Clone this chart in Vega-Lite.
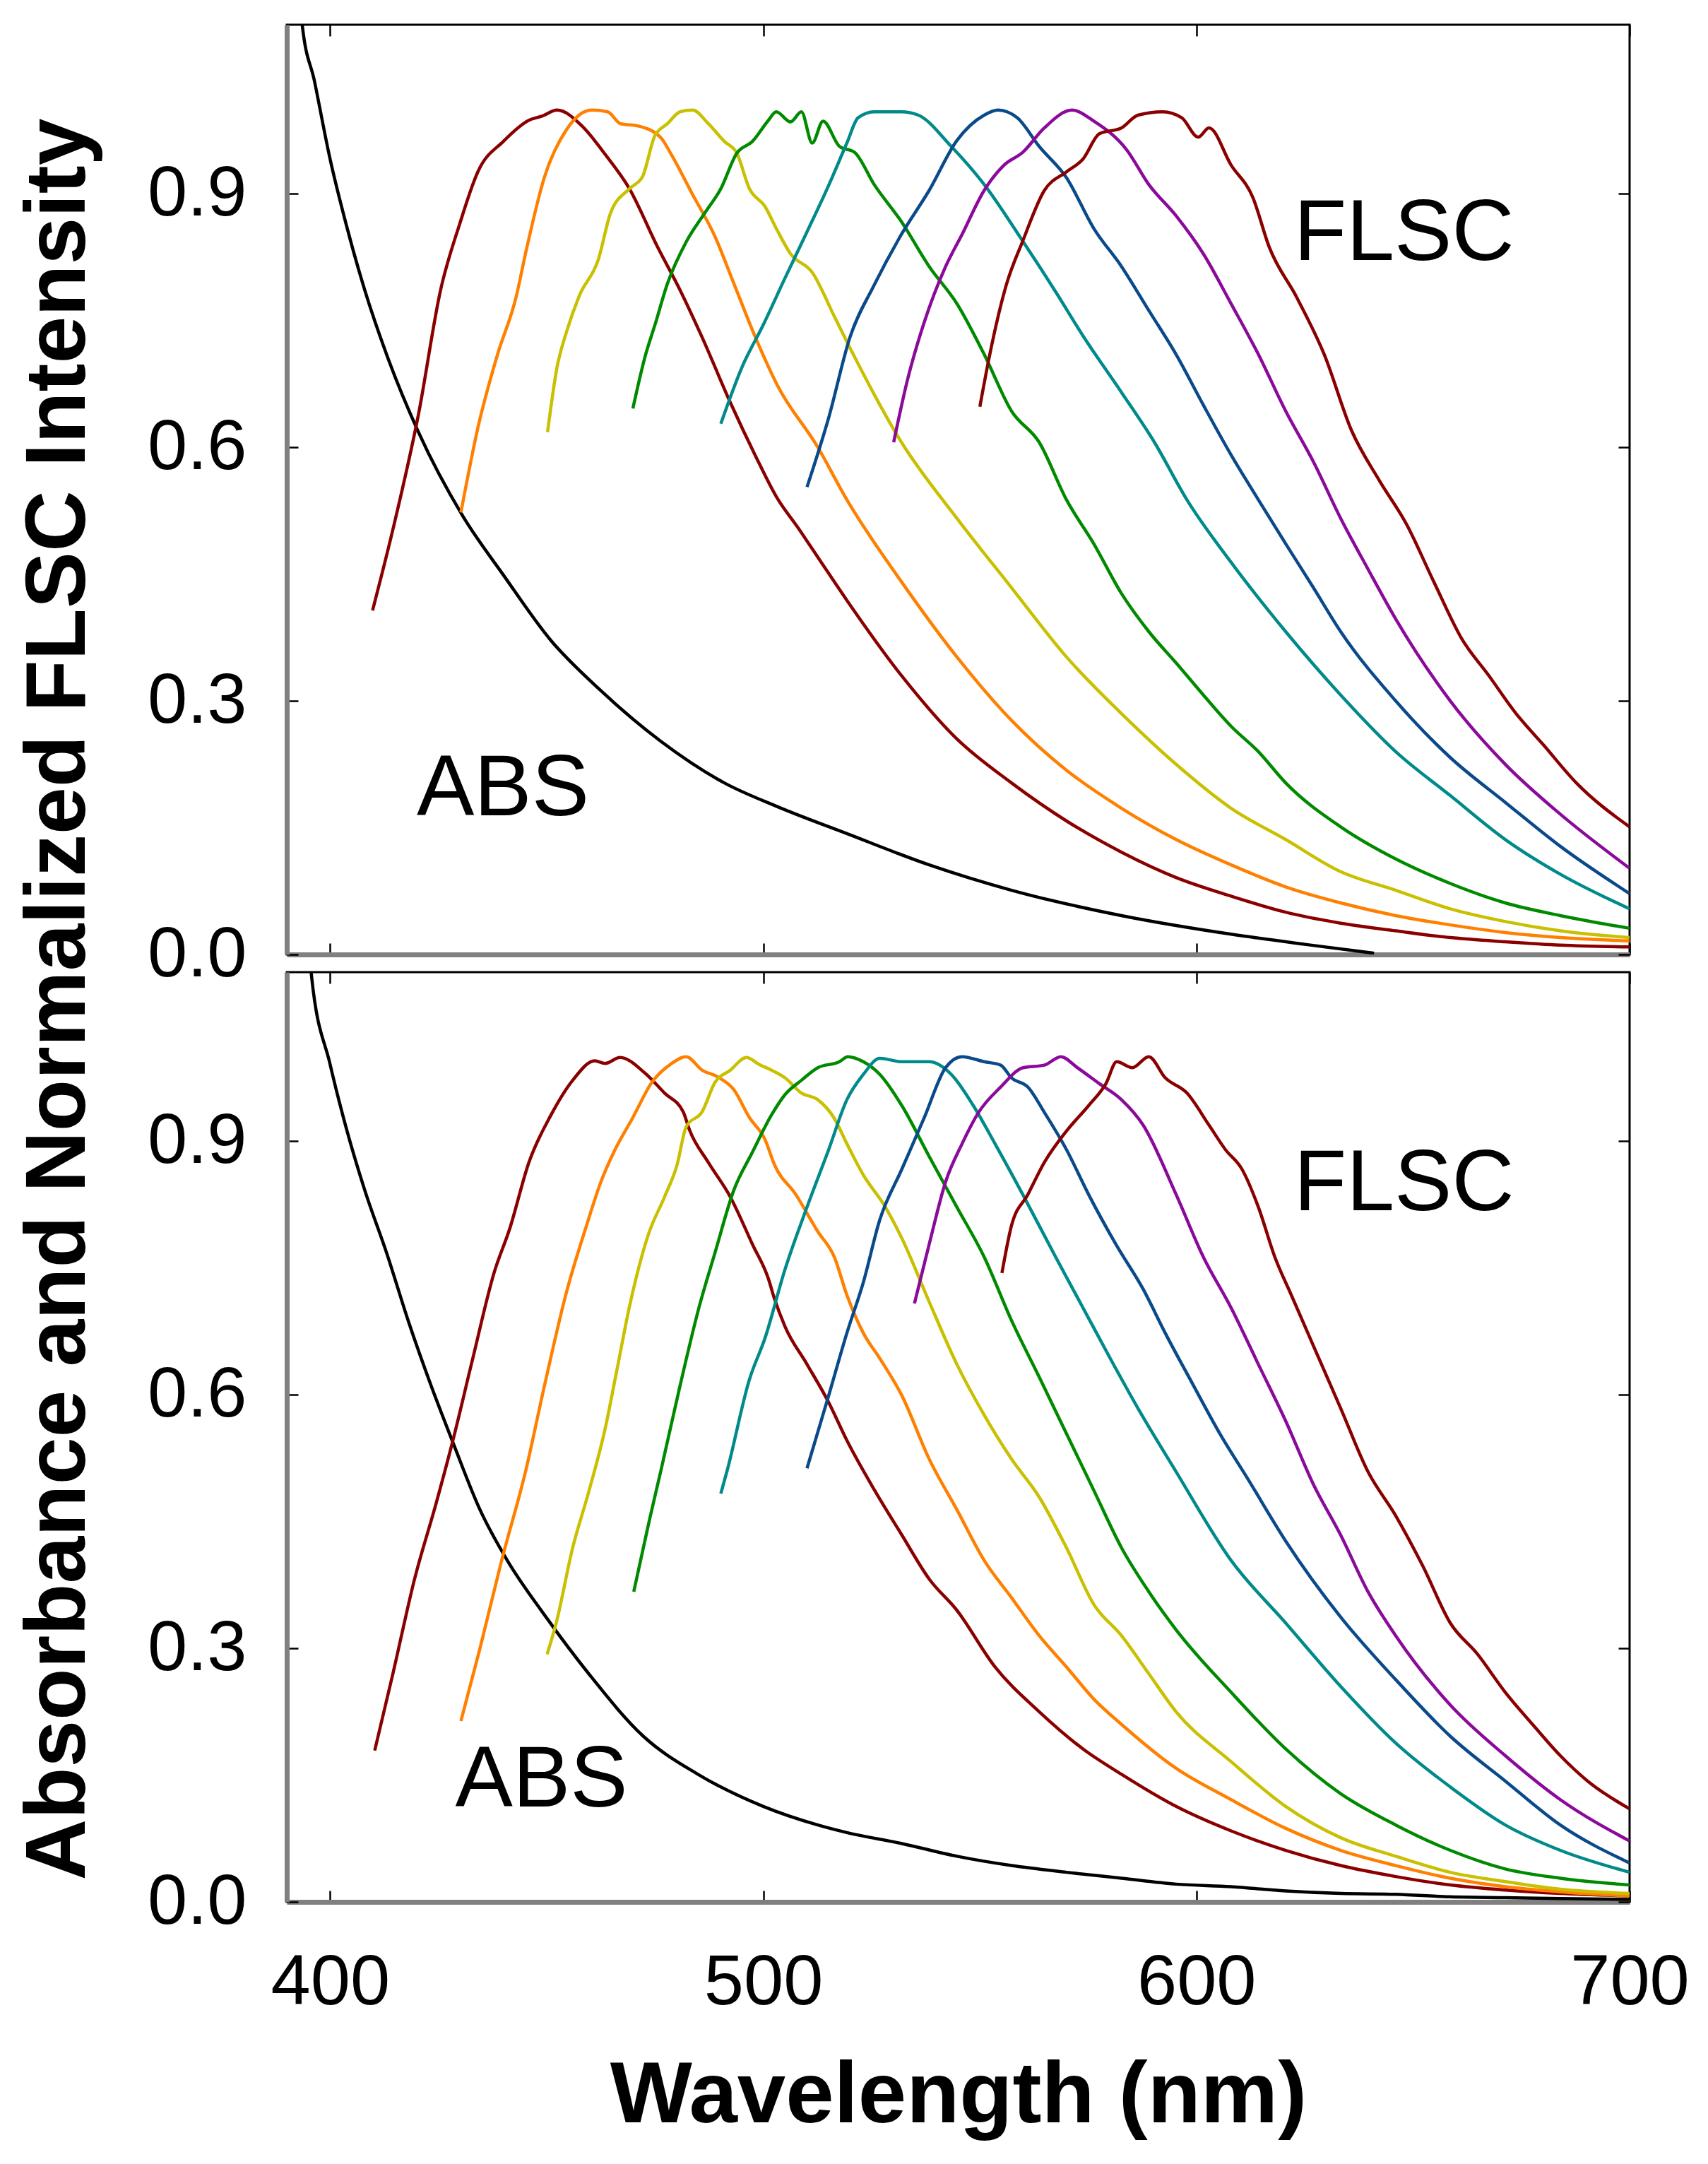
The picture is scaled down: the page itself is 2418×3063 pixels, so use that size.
{
  "$schema": "https://vega.github.io/schema/vega-lite/v6.json",
  "description": "Absorbance (ABS) and normalized FLSC spectra, two stacked panels sharing the wavelength axis.",
  "background": "white",
  "padding": {"left": 21, "top": 32, "right": 10, "bottom": 10},
  "bounds": "flush",
  "spacing": 25,
  "config": {
    "font": "Liberation Sans",
    "view": {"stroke": "#000000", "strokeWidth": 3},
    "axis": {
      "grid": false,
      "tickColor": "#000000",
      "tickWidth": 2.5,
      "tickSize": -16,
      "labelFont": "Liberation Sans",
      "labelFontSize": 101,
      "labelColor": "#000000",
      "labelFlush": false,
      "domainColor": "#808080",
      "domainWidth": 7,
      "titleFont": "Liberation Sans",
      "titleFontWeight": "bold",
      "titleColor": "#000000"
    }
  },
  "datasets": {
    "notes": [
      {"p": "a", "t": "ABS", "x": 420, "y": 0.165},
      {"p": "a", "t": "FLSC", "x": 622.5, "y": 0.822},
      {"p": "b", "t": "ABS", "x": 428.9, "y": 0.113},
      {"p": "b", "t": "FLSC", "x": 622.5, "y": 0.818}
    ],
    "curves": [
      {"p":"a","s":"ABS","x":393.2,"y":1.12},{"p":"a","s":"ABS","x":393.5,"y":1.103},{"p":"a","s":"ABS","x":396.4,"y":1.033},{"p":"a","s":"ABS","x":400,"y":0.941},{"p":"a","s":"ABS","x":403.7,"y":0.864},{"p":"a","s":"ABS","x":408,"y":0.786},{"p":"a","s":"ABS","x":413.1,"y":0.709},{"p":"a","s":"ABS","x":420.4,"y":0.618},{"p":"a","s":"ABS","x":430.6,"y":0.519},{"p":"a","s":"ABS","x":440,"y":0.449},{"p":"a","s":"ABS","x":450.9,"y":0.372},{"p":"a","s":"ABS","x":461.9,"y":0.315},{"p":"a","s":"ABS","x":476.4,"y":0.252},{"p":"a","s":"ABS","x":491,"y":0.203},{"p":"a","s":"ABS","x":503.2,"y":0.175},{"p":"a","s":"ABS","x":519.3,"y":0.143},{"p":"a","s":"ABS","x":538.3,"y":0.106},{"p":"a","s":"ABS","x":557.3,"y":0.076},{"p":"a","s":"ABS","x":582.7,"y":0.046},{"p":"a","s":"ABS","x":608,"y":0.024},{"p":"a","s":"ABS","x":625,"y":0.012},{"p":"a","s":"ABS","x":641,"y":0.0015},
      {"p":"a","s":"m1","x":409.8,"y":0.407},{"p":"a","s":"m1","x":414.6,"y":0.505},{"p":"a","s":"m1","x":420.4,"y":0.639},{"p":"a","s":"m1","x":425.5,"y":0.786},{"p":"a","s":"m1","x":429.9,"y":0.864},{"p":"a","s":"m1","x":434.2,"y":0.927},{"p":"a","s":"m1","x":440,"y":0.962},{"p":"a","s":"m1","x":445.9,"y":0.987},{"p":"a","s":"m1","x":449,"y":0.992},{"p":"a","s":"m1","x":452.4,"y":0.999},{"p":"a","s":"m1","x":458.2,"y":0.98},{"p":"a","s":"m1","x":463.3,"y":0.948},{"p":"a","s":"m1","x":469.1,"y":0.906},{"p":"a","s":"m1","x":475.7,"y":0.836},{"p":"a","s":"m1","x":480.8,"y":0.786},{"p":"a","s":"m1","x":485.9,"y":0.73},{"p":"a","s":"m1","x":492.4,"y":0.653},{"p":"a","s":"m1","x":498.2,"y":0.59},{"p":"a","s":"m1","x":503.2,"y":0.54},{"p":"a","s":"m1","x":508,"y":0.505},{"p":"a","s":"m1","x":512.6,"y":0.47},{"p":"a","s":"m1","x":519.3,"y":0.419},{"p":"a","s":"m1","x":531.9,"y":0.33},{"p":"a","s":"m1","x":544.7,"y":0.255},{"p":"a","s":"m1","x":557.3,"y":0.203},{"p":"a","s":"m1","x":570,"y":0.158},{"p":"a","s":"m1","x":582.7,"y":0.121},{"p":"a","s":"m1","x":595.3,"y":0.091},{"p":"a","s":"m1","x":608,"y":0.069},{"p":"a","s":"m1","x":620.6,"y":0.05},{"p":"a","s":"m1","x":633.3,"y":0.037},{"p":"a","s":"m1","x":646,"y":0.028},{"p":"a","s":"m1","x":658.6,"y":0.02},{"p":"a","s":"m1","x":671.3,"y":0.015},{"p":"a","s":"m1","x":684,"y":0.011},{"p":"a","s":"m1","x":700,"y":0.009},
      {"p":"a","s":"o","x":430.2,"y":0.523},{"p":"a","s":"o","x":434.2,"y":0.625},{"p":"a","s":"o","x":438.6,"y":0.709},{"p":"a","s":"o","x":443,"y":0.779},{"p":"a","s":"o","x":445.1,"y":0.829},{"p":"a","s":"o","x":449.5,"y":0.92},{"p":"a","s":"o","x":454.6,"y":0.976},{"p":"a","s":"o","x":460.4,"y":0.999},{"p":"a","s":"o","x":464.1,"y":0.997},{"p":"a","s":"o","x":467,"y":0.983},{"p":"a","s":"o","x":471.3,"y":0.98},{"p":"a","s":"o","x":476.4,"y":0.966},{"p":"a","s":"o","x":478.6,"y":0.948},{"p":"a","s":"o","x":483.7,"y":0.899},{"p":"a","s":"o","x":488.8,"y":0.85},{"p":"a","s":"o","x":493.2,"y":0.794},{"p":"a","s":"o","x":498.2,"y":0.73},{"p":"a","s":"o","x":503.2,"y":0.674},{"p":"a","s":"o","x":512.6,"y":0.6},{"p":"a","s":"o","x":519.3,"y":0.538},{"p":"a","s":"o","x":531.9,"y":0.441},{"p":"a","s":"o","x":544.7,"y":0.352},{"p":"a","s":"o","x":557.3,"y":0.277},{"p":"a","s":"o","x":570,"y":0.218},{"p":"a","s":"o","x":582.7,"y":0.173},{"p":"a","s":"o","x":595.3,"y":0.136},{"p":"a","s":"o","x":608,"y":0.106},{"p":"a","s":"o","x":620.6,"y":0.08},{"p":"a","s":"o","x":633.3,"y":0.061},{"p":"a","s":"o","x":646,"y":0.046},{"p":"a","s":"o","x":658.6,"y":0.035},{"p":"a","s":"o","x":671.3,"y":0.026},{"p":"a","s":"o","x":684,"y":0.02},{"p":"a","s":"o","x":700,"y":0.016},
      {"p":"a","s":"y","x":450.2,"y":0.618},{"p":"a","s":"y","x":452.4,"y":0.695},{"p":"a","s":"y","x":454.6,"y":0.737},{"p":"a","s":"y","x":457.5,"y":0.779},{"p":"a","s":"y","x":461.9,"y":0.822},{"p":"a","s":"y","x":464.8,"y":0.878},{"p":"a","s":"y","x":469.1,"y":0.906},{"p":"a","s":"y","x":472.1,"y":0.92},{"p":"a","s":"y","x":475,"y":0.969},{"p":"a","s":"y","x":477.9,"y":0.983},{"p":"a","s":"y","x":480.8,"y":0.997},{"p":"a","s":"y","x":483.7,"y":0.999},{"p":"a","s":"y","x":487.3,"y":0.983},{"p":"a","s":"y","x":491,"y":0.962},{"p":"a","s":"y","x":493.9,"y":0.948},{"p":"a","s":"y","x":496.8,"y":0.906},{"p":"a","s":"y","x":500.4,"y":0.885},{"p":"a","s":"y","x":503.2,"y":0.857},{"p":"a","s":"y","x":506.3,"y":0.829},{"p":"a","s":"y","x":511.3,"y":0.807},{"p":"a","s":"y","x":516.4,"y":0.755},{"p":"a","s":"y","x":519.3,"y":0.725},{"p":"a","s":"y","x":531.9,"y":0.606},{"p":"a","s":"y","x":544.7,"y":0.516},{"p":"a","s":"y","x":557.3,"y":0.434},{"p":"a","s":"y","x":570,"y":0.352},{"p":"a","s":"y","x":582.7,"y":0.285},{"p":"a","s":"y","x":595.3,"y":0.225},{"p":"a","s":"y","x":608,"y":0.173},{"p":"a","s":"y","x":620.6,"y":0.136},{"p":"a","s":"y","x":633.3,"y":0.098},{"p":"a","s":"y","x":646,"y":0.076},{"p":"a","s":"y","x":658.6,"y":0.054},{"p":"a","s":"y","x":671.3,"y":0.039},{"p":"a","s":"y","x":684,"y":0.028},{"p":"a","s":"y","x":700,"y":0.02},
      {"p":"a","s":"g","x":469.9,"y":0.646},{"p":"a","s":"g","x":472.8,"y":0.709},{"p":"a","s":"g","x":475,"y":0.745},{"p":"a","s":"g","x":477.9,"y":0.794},{"p":"a","s":"g","x":482.2,"y":0.843},{"p":"a","s":"g","x":486.6,"y":0.878},{"p":"a","s":"g","x":490.2,"y":0.906},{"p":"a","s":"g","x":493.9,"y":0.948},{"p":"a","s":"g","x":497.5,"y":0.962},{"p":"a","s":"g","x":501.2,"y":0.987},{"p":"a","s":"g","x":503,"y":0.997},{"p":"a","s":"g","x":506.3,"y":0.985},{"p":"a","s":"g","x":508.8,"y":0.997},{"p":"a","s":"g","x":511.3,"y":0.96},{"p":"a","s":"g","x":513.8,"y":0.986},{"p":"a","s":"g","x":517.6,"y":0.956},{"p":"a","s":"g","x":521.1,"y":0.949},{"p":"a","s":"g","x":525.6,"y":0.911},{"p":"a","s":"g","x":531.9,"y":0.867},{"p":"a","s":"g","x":538.3,"y":0.814},{"p":"a","s":"g","x":544.7,"y":0.77},{"p":"a","s":"g","x":551,"y":0.71},{"p":"a","s":"g","x":557.3,"y":0.643},{"p":"a","s":"g","x":563.7,"y":0.606},{"p":"a","s":"g","x":570,"y":0.538},{"p":"a","s":"g","x":576.3,"y":0.486},{"p":"a","s":"g","x":582.7,"y":0.427},{"p":"a","s":"g","x":589,"y":0.382},{"p":"a","s":"g","x":595.3,"y":0.345},{"p":"a","s":"g","x":601.6,"y":0.307},{"p":"a","s":"g","x":608,"y":0.27},{"p":"a","s":"g","x":614.3,"y":0.24},{"p":"a","s":"g","x":620.6,"y":0.203},{"p":"a","s":"g","x":633.3,"y":0.151},{"p":"a","s":"g","x":646,"y":0.113},{"p":"a","s":"g","x":658.6,"y":0.084},{"p":"a","s":"g","x":671.3,"y":0.061},{"p":"a","s":"g","x":684,"y":0.046},{"p":"a","s":"g","x":700,"y":0.031},
      {"p":"a","s":"t","x":490.2,"y":0.628},{"p":"a","s":"t","x":495.1,"y":0.695},{"p":"a","s":"t","x":500,"y":0.745},{"p":"a","s":"t","x":505,"y":0.8},{"p":"a","s":"t","x":510.1,"y":0.855},{"p":"a","s":"t","x":515.1,"y":0.91},{"p":"a","s":"t","x":519.3,"y":0.96},{"p":"a","s":"t","x":521.9,"y":0.99},{"p":"a","s":"t","x":525.6,"y":0.997},{"p":"a","s":"t","x":531.9,"y":0.997},{"p":"a","s":"t","x":535.8,"y":0.993},{"p":"a","s":"t","x":543.4,"y":0.956},{"p":"a","s":"t","x":551,"y":0.911},{"p":"a","s":"t","x":559.9,"y":0.844},{"p":"a","s":"t","x":567.5,"y":0.784},{"p":"a","s":"t","x":573.8,"y":0.732},{"p":"a","s":"t","x":582.7,"y":0.665},{"p":"a","s":"t","x":590.3,"y":0.606},{"p":"a","s":"t","x":597.8,"y":0.538},{"p":"a","s":"t","x":608,"y":0.464},{"p":"a","s":"t","x":620.6,"y":0.382},{"p":"a","s":"t","x":633.3,"y":0.307},{"p":"a","s":"t","x":646,"y":0.24},{"p":"a","s":"t","x":658.6,"y":0.188},{"p":"a","s":"t","x":671.3,"y":0.136},{"p":"a","s":"t","x":684,"y":0.095},{"p":"a","s":"t","x":700,"y":0.054},
      {"p":"a","s":"b","x":510.1,"y":0.553},{"p":"a","s":"b","x":515.1,"y":0.635},{"p":"a","s":"b","x":520,"y":0.73},{"p":"a","s":"b","x":525.6,"y":0.792},{"p":"a","s":"b","x":531.9,"y":0.852},{"p":"a","s":"b","x":538.3,"y":0.904},{"p":"a","s":"b","x":544.7,"y":0.963},{"p":"a","s":"b","x":551,"y":0.993},{"p":"a","s":"b","x":554.2,"y":0.999},{"p":"a","s":"b","x":558.6,"y":0.99},{"p":"a","s":"b","x":563.7,"y":0.956},{"p":"a","s":"b","x":570,"y":0.919},{"p":"a","s":"b","x":576.3,"y":0.859},{"p":"a","s":"b","x":582.7,"y":0.814},{"p":"a","s":"b","x":589,"y":0.762},{"p":"a","s":"b","x":595.3,"y":0.71},{"p":"a","s":"b","x":601.6,"y":0.65},{"p":"a","s":"b","x":608,"y":0.591},{"p":"a","s":"b","x":614.3,"y":0.538},{"p":"a","s":"b","x":620.6,"y":0.486},{"p":"a","s":"b","x":627,"y":0.434},{"p":"a","s":"b","x":633.3,"y":0.382},{"p":"a","s":"b","x":646,"y":0.3},{"p":"a","s":"b","x":658.6,"y":0.233},{"p":"a","s":"b","x":671.3,"y":0.18},{"p":"a","s":"b","x":684,"y":0.128},{"p":"a","s":"b","x":700,"y":0.072},
      {"p":"a","s":"pu","x":530.1,"y":0.606},{"p":"a","s":"pu","x":533.3,"y":0.68},{"p":"a","s":"pu","x":537.1,"y":0.747},{"p":"a","s":"pu","x":542.1,"y":0.814},{"p":"a","s":"pu","x":545.9,"y":0.852},{"p":"a","s":"pu","x":551,"y":0.904},{"p":"a","s":"pu","x":555.6,"y":0.934},{"p":"a","s":"pu","x":559.9,"y":0.949},{"p":"a","s":"pu","x":564.9,"y":0.978},{"p":"a","s":"pu","x":571.3,"y":0.999},{"p":"a","s":"pu","x":576.3,"y":0.986},{"p":"a","s":"pu","x":583.9,"y":0.952},{"p":"a","s":"pu","x":589,"y":0.911},{"p":"a","s":"pu","x":595.3,"y":0.874},{"p":"a","s":"pu","x":601.6,"y":0.829},{"p":"a","s":"pu","x":608,"y":0.77},{"p":"a","s":"pu","x":614.3,"y":0.71},{"p":"a","s":"pu","x":620.6,"y":0.643},{"p":"a","s":"pu","x":627,"y":0.583},{"p":"a","s":"pu","x":633.3,"y":0.516},{"p":"a","s":"pu","x":639.6,"y":0.456},{"p":"a","s":"pu","x":646,"y":0.397},{"p":"a","s":"pu","x":658.6,"y":0.3},{"p":"a","s":"pu","x":671.3,"y":0.225},{"p":"a","s":"pu","x":684,"y":0.166},{"p":"a","s":"pu","x":700,"y":0.102},
      {"p":"a","s":"m2","x":550,"y":0.648},{"p":"a","s":"m2","x":552.3,"y":0.71},{"p":"a","s":"m2","x":556.1,"y":0.792},{"p":"a","s":"m2","x":559.9,"y":0.844},{"p":"a","s":"m2","x":564.9,"y":0.904},{"p":"a","s":"m2","x":570,"y":0.926},{"p":"a","s":"m2","x":573.8,"y":0.941},{"p":"a","s":"m2","x":577.6,"y":0.971},{"p":"a","s":"m2","x":582.7,"y":0.978},{"p":"a","s":"m2","x":586.5,"y":0.993},{"p":"a","s":"m2","x":592.2,"y":0.997},{"p":"a","s":"m2","x":596.6,"y":0.99},{"p":"a","s":"m2","x":600.4,"y":0.967},{"p":"a","s":"m2","x":602.9,"y":0.978},{"p":"a","s":"m2","x":608,"y":0.934},{"p":"a","s":"m2","x":613,"y":0.896},{"p":"a","s":"m2","x":616.8,"y":0.837},{"p":"a","s":"m2","x":623.2,"y":0.777},{"p":"a","s":"m2","x":629.5,"y":0.71},{"p":"a","s":"m2","x":635.8,"y":0.62},{"p":"a","s":"m2","x":642.2,"y":0.561},{"p":"a","s":"m2","x":648.5,"y":0.509},{"p":"a","s":"m2","x":654.8,"y":0.441},{"p":"a","s":"m2","x":661.2,"y":0.374},{"p":"a","s":"m2","x":667.5,"y":0.33},{"p":"a","s":"m2","x":673.8,"y":0.285},{"p":"a","s":"m2","x":680.1,"y":0.248},{"p":"a","s":"m2","x":687.7,"y":0.203},{"p":"a","s":"m2","x":700,"y":0.151},
      {"p":"b","s":"ABS","x":395.4,"y":1.12},{"p":"b","s":"ABS","x":395.7,"y":1.096},{"p":"b","s":"ABS","x":400,"y":0.991},{"p":"b","s":"ABS","x":403.7,"y":0.916},{"p":"b","s":"ABS","x":408,"y":0.842},{"p":"b","s":"ABS","x":413.1,"y":0.767},{"p":"b","s":"ABS","x":418.2,"y":0.685},{"p":"b","s":"ABS","x":423.3,"y":0.611},{"p":"b","s":"ABS","x":428.4,"y":0.543},{"p":"b","s":"ABS","x":434.6,"y":0.464},{"p":"b","s":"ABS","x":440.9,"y":0.404},{"p":"b","s":"ABS","x":449.7,"y":0.338},{"p":"b","s":"ABS","x":459.7,"y":0.27},{"p":"b","s":"ABS","x":472.3,"y":0.196},{"p":"b","s":"ABS","x":484.9,"y":0.151},{"p":"b","s":"ABS","x":500,"y":0.113},{"p":"b","s":"ABS","x":512.6,"y":0.091},{"p":"b","s":"ABS","x":519.3,"y":0.082},{"p":"b","s":"ABS","x":532,"y":0.069},{"p":"b","s":"ABS","x":544.7,"y":0.054},{"p":"b","s":"ABS","x":557.3,"y":0.043},{"p":"b","s":"ABS","x":570,"y":0.035},{"p":"b","s":"ABS","x":582.7,"y":0.028},{"p":"b","s":"ABS","x":595.3,"y":0.021},{"p":"b","s":"ABS","x":608,"y":0.018},{"p":"b","s":"ABS","x":620.6,"y":0.013},{"p":"b","s":"ABS","x":633.3,"y":0.01},{"p":"b","s":"ABS","x":646,"y":0.009},{"p":"b","s":"ABS","x":658.6,"y":0.006},{"p":"b","s":"ABS","x":671.3,"y":0.005},{"p":"b","s":"ABS","x":684,"y":0.004},{"p":"b","s":"ABS","x":700,"y":0.003},
      {"p":"b","s":"m1","x":410.3,"y":0.179},{"p":"b","s":"m1","x":414.5,"y":0.27},{"p":"b","s":"m1","x":419.5,"y":0.382},{"p":"b","s":"m1","x":424.5,"y":0.472},{"p":"b","s":"m1","x":428.4,"y":0.547},{"p":"b","s":"m1","x":432.8,"y":0.64},{"p":"b","s":"m1","x":437.9,"y":0.745},{"p":"b","s":"m1","x":441.5,"y":0.797},{"p":"b","s":"m1","x":445.9,"y":0.875},{"p":"b","s":"m1","x":451,"y":0.931},{"p":"b","s":"m1","x":456,"y":0.972},{"p":"b","s":"m1","x":461.1,"y":0.995},{"p":"b","s":"m1","x":463.5,"y":0.992},{"p":"b","s":"m1","x":466.9,"y":0.999},{"p":"b","s":"m1","x":472.8,"y":0.98},{"p":"b","s":"m1","x":477.2,"y":0.957},{"p":"b","s":"m1","x":481.5,"y":0.935},{"p":"b","s":"m1","x":483,"y":0.913},{"p":"b","s":"m1","x":487.3,"y":0.875},{"p":"b","s":"m1","x":492.4,"y":0.834},{"p":"b","s":"m1","x":497.5,"y":0.778},{"p":"b","s":"m1","x":501.2,"y":0.737},{"p":"b","s":"m1","x":502.5,"y":0.715},{"p":"b","s":"m1","x":505,"y":0.681},{"p":"b","s":"m1","x":510.1,"y":0.636},{"p":"b","s":"m1","x":515.1,"y":0.591},{"p":"b","s":"m1","x":519.3,"y":0.546},{"p":"b","s":"m1","x":525.7,"y":0.487},{"p":"b","s":"m1","x":532,"y":0.434},{"p":"b","s":"m1","x":538.3,"y":0.382},{"p":"b","s":"m1","x":544.7,"y":0.345},{"p":"b","s":"m1","x":553.5,"y":0.278},{"p":"b","s":"m1","x":563.7,"y":0.225},{"p":"b","s":"m1","x":573.8,"y":0.181},{"p":"b","s":"m1","x":582.7,"y":0.151},{"p":"b","s":"m1","x":595.3,"y":0.113},{"p":"b","s":"m1","x":608,"y":0.084},{"p":"b","s":"m1","x":620.6,"y":0.061},{"p":"b","s":"m1","x":633.3,"y":0.043},{"p":"b","s":"m1","x":646,"y":0.03},{"p":"b","s":"m1","x":658.6,"y":0.02},{"p":"b","s":"m1","x":671.3,"y":0.014},{"p":"b","s":"m1","x":684,"y":0.01},{"p":"b","s":"m1","x":700,"y":0.007},
      {"p":"b","s":"o","x":430.2,"y":0.214},{"p":"b","s":"o","x":434.6,"y":0.3},{"p":"b","s":"o","x":439.6,"y":0.404},{"p":"b","s":"o","x":445.2,"y":0.511},{"p":"b","s":"o","x":449.5,"y":0.611},{"p":"b","s":"o","x":454.6,"y":0.722},{"p":"b","s":"o","x":459,"y":0.797},{"p":"b","s":"o","x":462.6,"y":0.853},{"p":"b","s":"o","x":465.5,"y":0.887},{"p":"b","s":"o","x":469.9,"y":0.928},{"p":"b","s":"o","x":474.2,"y":0.969},{"p":"b","s":"o","x":478.6,"y":0.991},{"p":"b","s":"o","x":482.2,"y":1.0},{"p":"b","s":"o","x":485.9,"y":0.984},{"p":"b","s":"o","x":489.5,"y":0.976},{"p":"b","s":"o","x":493.2,"y":0.961},{"p":"b","s":"o","x":496.8,"y":0.928},{"p":"b","s":"o","x":500.4,"y":0.902},{"p":"b","s":"o","x":502.6,"y":0.872},{"p":"b","s":"o","x":507.5,"y":0.837},{"p":"b","s":"o","x":512.6,"y":0.793},{"p":"b","s":"o","x":516.4,"y":0.763},{"p":"b","s":"o","x":519.3,"y":0.718},{"p":"b","s":"o","x":523.1,"y":0.673},{"p":"b","s":"o","x":526.9,"y":0.643},{"p":"b","s":"o","x":532,"y":0.599},{"p":"b","s":"o","x":538.3,"y":0.524},{"p":"b","s":"o","x":544.7,"y":0.464},{"p":"b","s":"o","x":551,"y":0.404},{"p":"b","s":"o","x":557.3,"y":0.36},{"p":"b","s":"o","x":563.7,"y":0.315},{"p":"b","s":"o","x":570,"y":0.278},{"p":"b","s":"o","x":576.3,"y":0.24},{"p":"b","s":"o","x":582.7,"y":0.21},{"p":"b","s":"o","x":595.3,"y":0.158},{"p":"b","s":"o","x":608,"y":0.121},{"p":"b","s":"o","x":620.6,"y":0.087},{"p":"b","s":"o","x":633.3,"y":0.061},{"p":"b","s":"o","x":646,"y":0.043},{"p":"b","s":"o","x":658.6,"y":0.028},{"p":"b","s":"o","x":671.3,"y":0.018},{"p":"b","s":"o","x":684,"y":0.012},{"p":"b","s":"o","x":700,"y":0.007},
      {"p":"b","s":"y","x":450.1,"y":0.293},{"p":"b","s":"y","x":452.2,"y":0.33},{"p":"b","s":"y","x":456,"y":0.419},{"p":"b","s":"y","x":459.7,"y":0.485},{"p":"b","s":"y","x":463.5,"y":0.56},{"p":"b","s":"y","x":466.2,"y":0.629},{"p":"b","s":"y","x":469.1,"y":0.704},{"p":"b","s":"y","x":473.5,"y":0.79},{"p":"b","s":"y","x":477.2,"y":0.834},{"p":"b","s":"y","x":480.1,"y":0.872},{"p":"b","s":"y","x":482.2,"y":0.917},{"p":"b","s":"y","x":485.9,"y":0.935},{"p":"b","s":"y","x":488.8,"y":0.969},{"p":"b","s":"y","x":492.4,"y":0.984},{"p":"b","s":"y","x":496.1,"y":0.999},{"p":"b","s":"y","x":499,"y":0.991},{"p":"b","s":"y","x":501.9,"y":0.984},{"p":"b","s":"y","x":505,"y":0.975},{"p":"b","s":"y","x":508.8,"y":0.957},{"p":"b","s":"y","x":512.6,"y":0.949},{"p":"b","s":"y","x":516.4,"y":0.927},{"p":"b","s":"y","x":519.3,"y":0.897},{"p":"b","s":"y","x":523.1,"y":0.86},{"p":"b","s":"y","x":528.2,"y":0.822},{"p":"b","s":"y","x":532,"y":0.785},{"p":"b","s":"y","x":538.3,"y":0.71},{"p":"b","s":"y","x":544.7,"y":0.636},{"p":"b","s":"y","x":551,"y":0.576},{"p":"b","s":"y","x":557.3,"y":0.524},{"p":"b","s":"y","x":563.7,"y":0.479},{"p":"b","s":"y","x":570,"y":0.419},{"p":"b","s":"y","x":576.3,"y":0.352},{"p":"b","s":"y","x":582.7,"y":0.315},{"p":"b","s":"y","x":589,"y":0.27},{"p":"b","s":"y","x":595.3,"y":0.225},{"p":"b","s":"y","x":608,"y":0.166},{"p":"b","s":"y","x":620.6,"y":0.113},{"p":"b","s":"y","x":633.3,"y":0.076},{"p":"b","s":"y","x":646,"y":0.054},{"p":"b","s":"y","x":658.6,"y":0.035},{"p":"b","s":"y","x":671.3,"y":0.024},{"p":"b","s":"y","x":684,"y":0.015},{"p":"b","s":"y","x":700,"y":0.01},
      {"p":"b","s":"g","x":470.1,"y":0.367},{"p":"b","s":"g","x":473.6,"y":0.449},{"p":"b","s":"g","x":476.4,"y":0.511},{"p":"b","s":"g","x":480.8,"y":0.611},{"p":"b","s":"g","x":485.2,"y":0.704},{"p":"b","s":"g","x":488.8,"y":0.767},{"p":"b","s":"g","x":493.2,"y":0.842},{"p":"b","s":"g","x":497.5,"y":0.887},{"p":"b","s":"g","x":501.9,"y":0.931},{"p":"b","s":"g","x":505,"y":0.955},{"p":"b","s":"g","x":508.8,"y":0.972},{"p":"b","s":"g","x":512.6,"y":0.987},{"p":"b","s":"g","x":517.6,"y":0.994},{"p":"b","s":"g","x":519.5,"y":1.0},{"p":"b","s":"g","x":523.1,"y":0.994},{"p":"b","s":"g","x":526.9,"y":0.979},{"p":"b","s":"g","x":532,"y":0.942},{"p":"b","s":"g","x":538.3,"y":0.882},{"p":"b","s":"g","x":544.7,"y":0.822},{"p":"b","s":"g","x":551,"y":0.763},{"p":"b","s":"g","x":557.3,"y":0.688},{"p":"b","s":"g","x":563.7,"y":0.621},{"p":"b","s":"g","x":570,"y":0.554},{"p":"b","s":"g","x":576.3,"y":0.487},{"p":"b","s":"g","x":582.7,"y":0.419},{"p":"b","s":"g","x":589,"y":0.367},{"p":"b","s":"g","x":595.3,"y":0.322},{"p":"b","s":"g","x":608,"y":0.248},{"p":"b","s":"g","x":620.6,"y":0.181},{"p":"b","s":"g","x":633.3,"y":0.128},{"p":"b","s":"g","x":646,"y":0.091},{"p":"b","s":"g","x":658.6,"y":0.061},{"p":"b","s":"g","x":671.3,"y":0.039},{"p":"b","s":"g","x":684,"y":0.028},{"p":"b","s":"g","x":700,"y":0.02},
      {"p":"b","s":"t","x":490.2,"y":0.483},{"p":"b","s":"t","x":491.7,"y":0.511},{"p":"b","s":"t","x":496.8,"y":0.618},{"p":"b","s":"t","x":500.4,"y":0.667},{"p":"b","s":"t","x":505,"y":0.748},{"p":"b","s":"t","x":510.1,"y":0.822},{"p":"b","s":"t","x":515.1,"y":0.89},{"p":"b","s":"t","x":519.3,"y":0.949},{"p":"b","s":"t","x":523.1,"y":0.979},{"p":"b","s":"t","x":526.9,"y":0.998},{"p":"b","s":"t","x":532,"y":0.994},{"p":"b","s":"t","x":538.3,"y":0.994},{"p":"b","s":"t","x":543.4,"y":0.979},{"p":"b","s":"t","x":548.5,"y":0.942},{"p":"b","s":"t","x":553.5,"y":0.897},{"p":"b","s":"t","x":559.9,"y":0.837},{"p":"b","s":"t","x":567.5,"y":0.763},{"p":"b","s":"t","x":573.8,"y":0.703},{"p":"b","s":"t","x":580.1,"y":0.643},{"p":"b","s":"t","x":586.5,"y":0.584},{"p":"b","s":"t","x":595.3,"y":0.509},{"p":"b","s":"t","x":608,"y":0.404},{"p":"b","s":"t","x":620.6,"y":0.33},{"p":"b","s":"t","x":633.3,"y":0.255},{"p":"b","s":"t","x":646,"y":0.188},{"p":"b","s":"t","x":658.6,"y":0.136},{"p":"b","s":"t","x":671.3,"y":0.091},{"p":"b","s":"t","x":684,"y":0.061},{"p":"b","s":"t","x":700,"y":0.035},
      {"p":"b","s":"b","x":510.1,"y":0.513},{"p":"b","s":"b","x":515.1,"y":0.599},{"p":"b","s":"b","x":519.3,"y":0.673},{"p":"b","s":"b","x":523.1,"y":0.733},{"p":"b","s":"b","x":526.9,"y":0.807},{"p":"b","s":"b","x":532,"y":0.867},{"p":"b","s":"b","x":537.1,"y":0.927},{"p":"b","s":"b","x":542.1,"y":0.987},{"p":"b","s":"b","x":545.9,"y":1.0},{"p":"b","s":"b","x":551,"y":0.994},{"p":"b","s":"b","x":554.8,"y":0.99},{"p":"b","s":"b","x":557.3,"y":0.975},{"p":"b","s":"b","x":561.1,"y":0.964},{"p":"b","s":"b","x":564.9,"y":0.934},{"p":"b","s":"b","x":570,"y":0.89},{"p":"b","s":"b","x":575.1,"y":0.837},{"p":"b","s":"b","x":581.4,"y":0.778},{"p":"b","s":"b","x":587.7,"y":0.725},{"p":"b","s":"b","x":592.8,"y":0.673},{"p":"b","s":"b","x":599.1,"y":0.613},{"p":"b","s":"b","x":605.4,"y":0.554},{"p":"b","s":"b","x":611.8,"y":0.501},{"p":"b","s":"b","x":620.6,"y":0.427},{"p":"b","s":"b","x":633.3,"y":0.337},{"p":"b","s":"b","x":646,"y":0.263},{"p":"b","s":"b","x":658.6,"y":0.196},{"p":"b","s":"b","x":671.3,"y":0.143},{"p":"b","s":"b","x":684,"y":0.091},{"p":"b","s":"b","x":700,"y":0.046},
      {"p":"b","s":"pu","x":534.9,"y":0.708},{"p":"b","s":"pu","x":538.3,"y":0.778},{"p":"b","s":"pu","x":542.1,"y":0.852},{"p":"b","s":"pu","x":545.9,"y":0.897},{"p":"b","s":"pu","x":549.7,"y":0.934},{"p":"b","s":"pu","x":554.8,"y":0.964},{"p":"b","s":"pu","x":560,"y":0.987},{"p":"b","s":"pu","x":564.9,"y":0.99},{"p":"b","s":"pu","x":568.7,"y":1.0},{"p":"b","s":"pu","x":572.5,"y":0.987},{"p":"b","s":"pu","x":577.6,"y":0.968},{"p":"b","s":"pu","x":582.7,"y":0.949},{"p":"b","s":"pu","x":587.7,"y":0.919},{"p":"b","s":"pu","x":595.3,"y":0.837},{"p":"b","s":"pu","x":601.6,"y":0.763},{"p":"b","s":"pu","x":608,"y":0.703},{"p":"b","s":"pu","x":614.3,"y":0.636},{"p":"b","s":"pu","x":620.6,"y":0.569},{"p":"b","s":"pu","x":627,"y":0.494},{"p":"b","s":"pu","x":633.3,"y":0.434},{"p":"b","s":"pu","x":639.6,"y":0.367},{"p":"b","s":"pu","x":646,"y":0.315},{"p":"b","s":"pu","x":658.6,"y":0.233},{"p":"b","s":"pu","x":671.3,"y":0.173},{"p":"b","s":"pu","x":684,"y":0.121},{"p":"b","s":"pu","x":700,"y":0.072},
      {"p":"b","s":"m2","x":555.1,"y":0.744},{"p":"b","s":"m2","x":557.3,"y":0.8},{"p":"b","s":"m2","x":561.1,"y":0.837},{"p":"b","s":"m2","x":564.9,"y":0.875},{"p":"b","s":"m2","x":570,"y":0.912},{"p":"b","s":"m2","x":575.1,"y":0.942},{"p":"b","s":"m2","x":579.1,"y":0.968},{"p":"b","s":"m2","x":581.6,"y":0.994},{"p":"b","s":"m2","x":585.2,"y":0.987},{"p":"b","s":"m2","x":589,"y":1.0},{"p":"b","s":"m2","x":592.8,"y":0.975},{"p":"b","s":"m2","x":597.8,"y":0.957},{"p":"b","s":"m2","x":602.9,"y":0.919},{"p":"b","s":"m2","x":606.7,"y":0.89},{"p":"b","s":"m2","x":610.5,"y":0.867},{"p":"b","s":"m2","x":614.3,"y":0.822},{"p":"b","s":"m2","x":618.1,"y":0.763},{"p":"b","s":"m2","x":621.9,"y":0.718},{"p":"b","s":"m2","x":627,"y":0.658},{"p":"b","s":"m2","x":633.3,"y":0.584},{"p":"b","s":"m2","x":639.6,"y":0.509},{"p":"b","s":"m2","x":646,"y":0.457},{"p":"b","s":"m2","x":652.3,"y":0.397},{"p":"b","s":"m2","x":658.6,"y":0.33},{"p":"b","s":"m2","x":664.9,"y":0.293},{"p":"b","s":"m2","x":671.3,"y":0.248},{"p":"b","s":"m2","x":677.6,"y":0.21},{"p":"b","s":"m2","x":684,"y":0.173},{"p":"b","s":"m2","x":690.3,"y":0.143},{"p":"b","s":"m2","x":700,"y":0.11}
    ]
  },
  "vconcat": [
    {
      "width": 1901,
      "height": 1316,
      "layer": [
        {
          "data": {"name": "curves"},
          "transform": [{"filter": "datum.p === 'a'"}],
          "mark": {"type": "line", "strokeWidth": 4.5, "clip": true, "strokeJoin": "round", "interpolate": "monotone"},
          "encoding": {
            "x": {
              "field": "x", "type": "quantitative",
              "scale": {"domain": [390, 700], "nice": false, "zero": false},
              "axis": {"values": [400, 500, 600, 700], "labels": false, "title": null}
            },
            "y": {
              "field": "y", "type": "quantitative",
              "scale": {"domain": [0, 1.1], "nice": false},
              "axis": {
                "values": [0, 0.3, 0.6, 0.9], "format": ".1f", "labelPadding": 73,
                "title": "Absorbance and Normalized FLSC Intensity",
                "titleFontSize": 120, "titleX": -287, "titleY": 1379,
                "titleBaseline": "alphabetic", "titleAlign": "center", "titleAngle": 270
              }
            },
            "color": {
              "field": "s", "type": "nominal", "legend": null,
              "scale": {
                "domain": ["ABS", "m1", "o", "y", "g", "t", "b", "pu", "m2"],
                "range": ["#000000", "#8a0000", "#ff8000", "#c8c000", "#008a00", "#008a8a", "#0a4a8a", "#8a0a9a", "#8a0000"]
              }
            }
          }
        },
        {
          "data": {"name": "notes"},
          "transform": [{"filter": "datum.p === 'a'"}],
          "mark": {"type": "text", "align": "left", "baseline": "alphabetic", "fontSize": 122, "font": "Liberation Sans", "color": "#000000"},
          "encoding": {
            "x": {"field": "x", "type": "quantitative", "axis": {"orient": "top", "values": [400, 500, 600, 700], "labels": false, "domain": false, "title": null}},
            "y": {"field": "y", "type": "quantitative", "axis": {"orient": "right", "values": [0, 0.3, 0.6, 0.9], "labels": false, "domain": false, "title": null}},
            "text": {"field": "t"}
          }
        }
      ],
      "resolve": {"axis": {"x": "independent", "y": "independent"}}
    },
    {
      "width": 1901,
      "height": 1316,
      "layer": [
        {
          "data": {"name": "curves"},
          "transform": [{"filter": "datum.p === 'b'"}],
          "mark": {"type": "line", "strokeWidth": 4.5, "clip": true, "strokeJoin": "round", "interpolate": "monotone"},
          "encoding": {
            "x": {
              "field": "x", "type": "quantitative",
              "scale": {"domain": [390, 700], "nice": false, "zero": false},
              "axis": {
                "values": [400, 500, 600, 700], "format": "d", "labelPadding": 80,
                "title": "Wavelength (nm)", "titleFontSize": 123, "titlePadding": 50
              }
            },
            "y": {
              "field": "y", "type": "quantitative",
              "scale": {"domain": [0, 1.1], "nice": false},
              "axis": {"values": [0, 0.3, 0.6, 0.9], "format": ".1f", "labelPadding": 73, "title": null}
            },
            "color": {
              "field": "s", "type": "nominal", "legend": null,
              "scale": {
                "domain": ["ABS", "m1", "o", "y", "g", "t", "b", "pu", "m2"],
                "range": ["#000000", "#8a0000", "#ff8000", "#c8c000", "#008a00", "#008a8a", "#0a4a8a", "#8a0a9a", "#8a0000"]
              }
            }
          }
        },
        {
          "data": {"name": "notes"},
          "transform": [{"filter": "datum.p === 'b'"}],
          "mark": {"type": "text", "align": "left", "baseline": "alphabetic", "fontSize": 122, "font": "Liberation Sans", "color": "#000000"},
          "encoding": {
            "x": {"field": "x", "type": "quantitative", "axis": {"orient": "top", "values": [400, 500, 600, 700], "labels": false, "domain": false, "title": null}},
            "y": {"field": "y", "type": "quantitative", "axis": {"orient": "right", "values": [0, 0.3, 0.6, 0.9], "labels": false, "domain": false, "title": null}},
            "text": {"field": "t"}
          }
        }
      ],
      "resolve": {"axis": {"x": "independent", "y": "independent"}}
    }
  ]
}
